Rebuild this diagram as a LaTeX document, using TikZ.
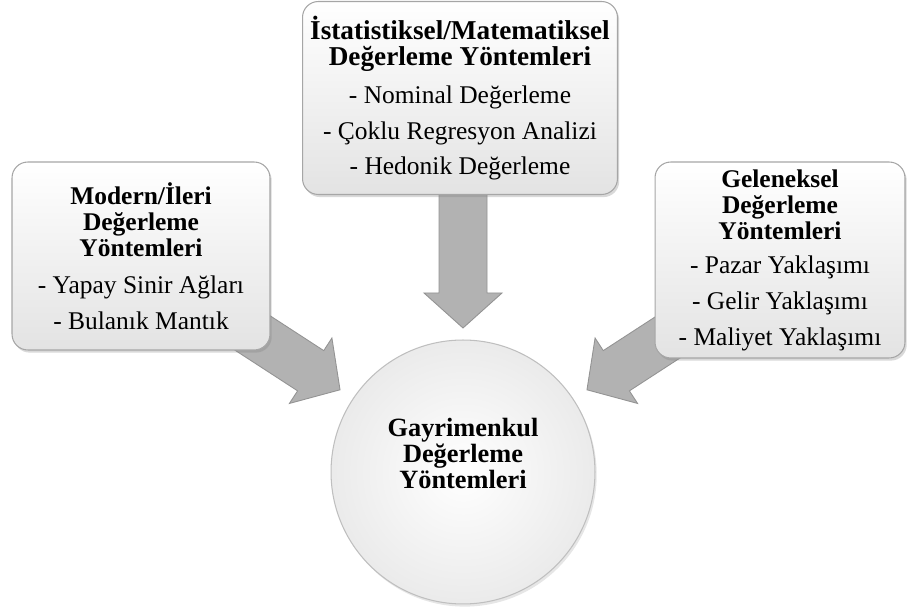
\documentclass[tikz,border=0pt]{standalone}
\usepackage{fontspec}
\setmainfont{Liberation Serif}
\usepackage{tikz}
\usetikzlibrary{positioning, calc, shadows}

\tikzset{
  methodbox/.style={draw=gray!70, line width=0.6pt, rounded corners=9pt,
    top color=white, bottom color=gray!22, align=center, inner sep=0pt,
    drop shadow={shadow xshift=1pt, shadow yshift=-1.5pt, opacity=0.3, fill=gray},
    font=\fontsize{14.5}{14.8}\selectfont},
  mainball/.style={circle, draw=gray!50, line width=0.6pt, inner sep=0pt,
    shading=radial, inner color=white, outer color=gray!16,
    drop shadow={shadow xshift=1pt, shadow yshift=-1.5pt, opacity=0.2, fill=gray},
    minimum size=5.28cm},
  blockarrow/.style={fill=gray!60, draw=gray!85, line width=0.5pt, line join=miter}
}

% arrow along local x: tail at origin, length #1 (px)
\newcommand{\fatarrow}[1]{%
  \path[blockarrow] (0,-24) -- (#1-35,-24) -- (#1-35,-39) -- (#1,0)
    -- (#1-35,39) -- (#1-35,24) -- (0,24) -- cycle;}

\begin{document}
\begin{tikzpicture}[x=0.02cm, y=-0.02cm]
  \useasboundingbox (0,0) rectangle (907,607);

  % tails of the three block arrows (hidden behind the boxes)
  \coordinate (ltail) at (231,319);
  \coordinate (mtail) at (463,190);
  \coordinate (rtail) at (696,319);

  \begin{scope}[shift={(ltail)}, rotate=-33] \fatarrow{130} \end{scope}
  \begin{scope}[shift={(mtail)}, rotate=-90] \fatarrow{138} \end{scope}
  \begin{scope}[shift={(rtail)}, rotate=-147] \fatarrow{130} \end{scope}

  % method groups
  \node[methodbox, minimum width=5.16cm, minimum height=3.76cm] (modern) at (141,256)
    {\textbf{Modern/İleri}\\\textbf{Değerleme}\\\textbf{Yöntemleri}\\[6.5pt]
     - Yapay Sinir Ağları\\[5.5pt] - Bulanık Mantık};
  \node[methodbox, minimum width=6.3cm, minimum height=3.86cm] (stat) at (460,98)
    {\textbf{\fontsize{15.5}{14.8}\selectfont İstatistiksel/Matematiksel}\\
     \textbf{\fontsize{15.5}{14.8}\selectfont Değerleme Yöntemleri}\\[7pt]
     - Nominal Değerleme\\[5.5pt] - Çoklu Regresyon Analizi\\[5.5pt] - Hedonik Değerleme};
  \node[methodbox, minimum width=5cm, minimum height=3.92cm] (trad) at (780,260)
    {\textbf{Geleneksel}\\\textbf{Değerleme}\\\textbf{Yöntemleri}\\[5pt]
     - Pazar Yaklaşımı\\[5.5pt] - Gelir Yaklaşımı\\[5.5pt] - Maliyet Yaklaşımı};

  % centre
  \node[mainball] (real) at (463,472) {};
  \node[align=center, font=\fontsize{15}{14.8}\selectfont\bfseries] (realtxt)
    at ($(real)+(0,-19)$) {Gayrimenkul\\Değerleme\\Yöntemleri};
\end{tikzpicture}
\end{document}
